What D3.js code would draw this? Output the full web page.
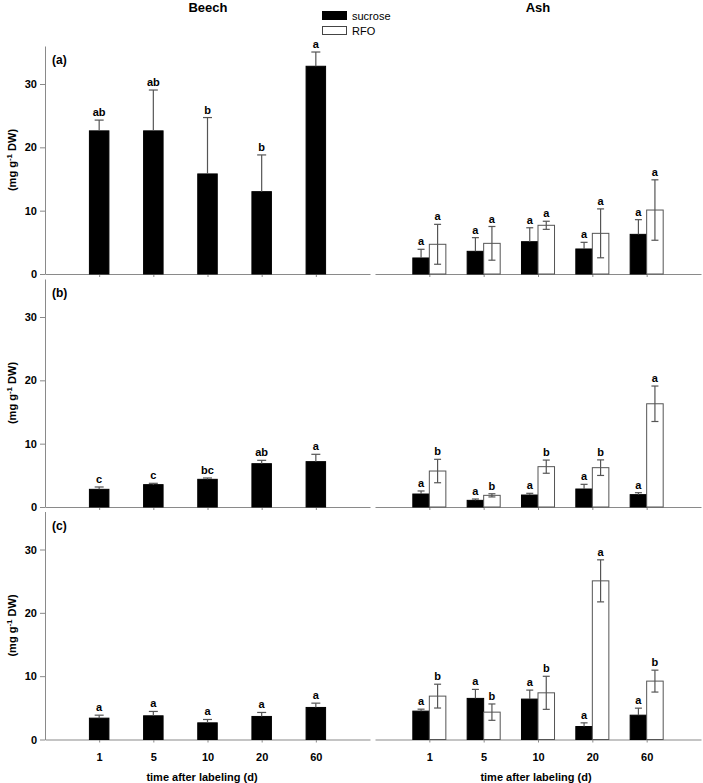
<!DOCTYPE html>
<html lang="en">
<head>
    <meta charset="UTF-8">
    <title>Beech / Ash sugars</title>
    <style>
        body {
            margin: 0;
            background: #fff;
        }
        text {
            font-family: "Liberation Sans", Arial, sans-serif;
        }
    </style>
</head>
<body>
    <div id="chart"></div>

    <script src="https://d3js.org/d3.v7.min.js"></script>
    <script>
        // time after labeling (d)
        const days = ['1', '5', '10', '20', '60']

        // panel (a)
        const beechSucA = [22.6, 22.6, 15.8, 13.0, 32.8]
        const beechSucAErr = [1.7, 6.45, 8.9, 5.8, 2.25]
        const beechSucALetters = ['ab', 'ab', 'b', 'b', 'a']
        const ashSucA = [2.53, 3.58, 5.1, 3.95, 6.26]
        const ashSucAErr = [1.37, 2.16, 2.2, 1.05, 2.32]
        const ashSucALetters = ['a', 'a', 'a', 'a', 'a']
        const ashRfoA = [4.69, 4.84, 7.69, 6.42, 10.1]
        const ashRfoAErr = [3.15, 2.66, 0.64, 3.86, 4.77]
        const ashRfoALetters = ['a', 'a', 'a', 'a', 'a']

        // panel (b)
        const beechSucB = [2.79, 3.53, 4.37, 6.84, 7.16]
        const beechSucBErr = [0.37, 0.21, 0.21, 0.53, 1.16]
        const beechSucBLetters = ['c', 'c', 'bc', 'ab', 'a']
        const ashSucB = [2.05, 1.05, 1.89, 2.84, 1.95]
        const ashSucBErr = [0.48, 0.21, 0.27, 0.74, 0.31]
        const ashSucBLetters = ['a', 'a', 'a', 'a', 'a']
        const ashRfoB = [5.68, 1.84, 6.37, 6.21, 16.3]
        const ashRfoBErr = [1.85, 0.25, 1.04, 1.23, 2.8]
        const ashRfoBLetters = ['b', 'b', 'b', 'b', 'a']

        // panel (c)
        const beechSucC = [3.37, 3.74, 2.63, 3.64, 5.06]
        const beechSucCErr = [0.47, 0.69, 0.53, 0.63, 0.68]
        const beechSucCLetters = ['a', 'a', 'a', 'a', 'a']
        const ashSucC = [4.48, 6.49, 6.38, 2.05, 3.84]
        const ashSucCErr = [0.31, 1.42, 1.42, 0.58, 1.11]
        const ashSucCLetters = ['a', 'a', 'a', 'a', 'a']
        const ashRfoC = [6.85, 4.32, 7.37, 25.05, 9.22]
        const ashRfoCErr = [1.88, 1.29, 2.61, 3.32, 1.73]
        const ashRfoCLetters = ['b', 'b', 'b', 'a', 'b']

        const yTicks = [0, 10, 20, 30]

        const width = 703
        const height = 783
        const svg = d3.select('#chart')
            .append('svg')
            .attr('width', width)
            .attr('height', height)

        const axisColor = '#8a8a8a'
        const errColor = '#555'

        const xLeft = d3.scaleLinear().domain([0, 6]).range([45, 370])
        const xRight = d3.scaleLinear().domain([0, 6]).range([375, 701])

        const panels = [
            {
                tag: '(a)', base: 274,
                beech: [beechSucA, beechSucAErr, beechSucALetters],
                suc: [ashSucA, ashSucAErr, ashSucALetters],
                rfo: [ashRfoA, ashRfoAErr, ashRfoALetters]
            },
            {
                tag: '(b)', base: 507,
                beech: [beechSucB, beechSucBErr, beechSucBLetters],
                suc: [ashSucB, ashSucBErr, ashSucBLetters],
                rfo: [ashRfoB, ashRfoBErr, ashRfoBLetters]
            },
            {
                tag: '(c)', base: 739.5,
                beech: [beechSucC, beechSucCErr, beechSucCLetters],
                suc: [ashSucC, ashSucCErr, ashSucCLetters],
                rfo: [ashRfoC, ashRfoCErr, ashRfoCLetters]
            }
        ]

        // titles
        svg.append('text')
            .attr('x', 208).attr('y', 12)
            .attr('text-anchor', 'middle')
            .attr('font-size', 13).attr('font-weight', 'bold')
            .text('Beech')
        svg.append('text')
            .attr('x', 538).attr('y', 12)
            .attr('text-anchor', 'middle')
            .attr('font-size', 13).attr('font-weight', 'bold')
            .text('Ash')

        // legend
        const legend = svg.append('g')
        legend.append('rect')
            .attr('x', 322).attr('y', 11).attr('width', 25).attr('height', 9)
            .attr('fill', '#000')
        legend.append('rect')
            .attr('x', 322.5).attr('y', 26.5).attr('width', 24).attr('height', 8)
            .attr('fill', '#fff').attr('stroke', '#444')
        legend.append('text')
            .attr('x', 352).attr('y', 20)
            .attr('font-size', 11)
            .text('sucrose')
        legend.append('text')
            .attr('x', 352).attr('y', 35)
            .attr('font-size', 11)
            .text('RFO')

        panels.forEach((p, pi) => {
            const y = d3.scaleLinear().domain([0, 36]).range([p.base, p.base - 228])
            const g = svg.append('g')
            const isLast = pi === panels.length - 1

            // y axis
            const yAxis = g.append('g')
                .attr('transform', 'translate(45,0)')
                .call(d3.axisLeft(y).tickValues(yTicks).tickSize(5).tickSizeOuter(0).tickPadding(3))
            yAxis.select('.domain').attr('stroke', axisColor)
            yAxis.selectAll('.tick line').attr('stroke', axisColor)
            yAxis.selectAll('.tick text')
                .attr('font-size', 11).attr('font-weight', 'bold')
                .attr('font-family', '"Liberation Sans", Arial, sans-serif')
                .attr('fill', '#000')

            // y label
            const yl = g.append('text')
                .attr('transform', `translate(16,${p.base - 114}) rotate(-90)`)
                .attr('text-anchor', 'middle')
                .attr('font-size', 11).attr('font-weight', 'bold')
            yl.append('tspan').text('(mg g')
            yl.append('tspan').attr('font-size', 8).attr('dy', -4).text('-1')
            yl.append('tspan').attr('dy', 4).text(' DW)')

            g.append('text')
                .attr('x', 52).attr('y', p.base - 210)
                .attr('font-size', 12).attr('font-weight', 'bold')
                .text(p.tag)

            // x axes
            ;[xLeft, xRight].forEach(xs => {
                const xa = g.append('g')
                    .attr('transform', `translate(0,${p.base})`)
                    .call(d3.axisBottom(xs).tickValues([1, 2, 3, 4, 5])
                        .tickFormat(i => isLast ? days[i - 1] : '')
                        .tickSize(3).tickSizeOuter(0).tickPadding(11))
                xa.select('.domain').attr('stroke', axisColor).attr('stroke-width', 1.2)
                xa.selectAll('.tick line').attr('stroke', axisColor)
                xa.selectAll('.tick text')
                    .attr('font-size', 11).attr('font-weight', 'bold')
                    .attr('font-family', '"Liberation Sans", Arial, sans-serif')
                    .attr('fill', '#000')
            })

            if (isLast) {
                g.append('text')
                    .attr('x', 202).attr('y', p.base + 41)
                    .attr('text-anchor', 'middle')
                    .attr('font-size', 11).attr('font-weight', 'bold')
                    .text('time after labeling (d)')
                g.append('text')
                    .attr('x', 536).attr('y', p.base + 41)
                    .attr('text-anchor', 'middle')
                    .attr('font-size', 11).attr('font-weight', 'bold')
                    .text('time after labeling (d)')
            }

            drawSeries(g, xLeft, y, p.beech, 0, 0.36, '#000', false, 9)
            drawSeries(g, xRight, y, p.suc, -0.152, 0.304, '#000', false, 7)
            drawSeries(g, xRight, y, p.rfo, 0.152, 0.304, '#fff', true, 7)
        })

        function drawSeries(g, xs, y, series, offset, bw, fill, both, cap) {
            const [vals, errs, letters] = series
            const data = vals.map((v, i) => ({ i: i + 1, v, e: errs[i], l: letters[i] }))
            const pxW = xs(bw) - xs(0)

            g.selectAll(null).data(data).enter()
                .append('rect')
                .attr('x', d => xs(d.i + offset) - pxW / 2)
                .attr('y', d => y(d.v))
                .attr('width', pxW)
                .attr('height', d => y(0) - y(d.v))
                .attr('fill', fill)
                .attr('stroke', fill === '#000' ? '#000' : '#555')
                .attr('stroke-width', 1)

            const eg = g.selectAll(null).data(data).enter().append('g')
                .attr('stroke', errColor).attr('stroke-width', 1.2)
            eg.append('line')
                .attr('x1', d => xs(d.i + offset)).attr('x2', d => xs(d.i + offset))
                .attr('y1', d => y(both ? d.v - d.e : d.v))
                .attr('y2', d => y(d.v + d.e))
            eg.append('line')
                .attr('x1', d => xs(d.i + offset) - cap / 2).attr('x2', d => xs(d.i + offset) + cap / 2)
                .attr('y1', d => y(d.v + d.e)).attr('y2', d => y(d.v + d.e))
            if (both) {
                eg.append('line')
                    .attr('x1', d => xs(d.i + offset) - cap / 2).attr('x2', d => xs(d.i + offset) + cap / 2)
                    .attr('y1', d => y(d.v - d.e)).attr('y2', d => y(d.v - d.e))
            }

            g.selectAll(null).data(data).enter()
                .append('text')
                .attr('x', d => xs(d.i + offset))
                .attr('y', d => y(d.v + d.e) - 4)
                .attr('text-anchor', 'middle')
                .attr('font-size', 11).attr('font-weight', 'bold')
                .text(d => d.l)
        }
    </script>
</body>
</html>
